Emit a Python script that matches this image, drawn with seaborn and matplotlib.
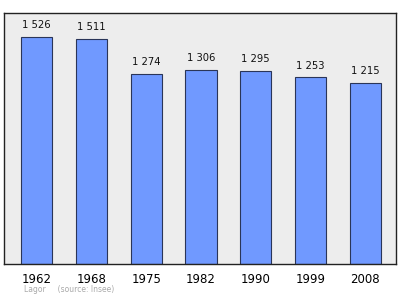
import matplotlib
matplotlib.use("Agg")
import matplotlib.pyplot as plt
import seaborn as sns
import pandas as pd

years = ["1962", "1968", "1975", "1982", "1990", "1999", "2008"]
population = [1526, 1511, 1274, 1306, 1295, 1253, 1215]
value_labels = ["1 526", "1 511", "1 274", "1 306", "1 295", "1 253", "1 215"]

df = pd.DataFrame({"year": years, "pop": population})

fig = plt.figure(figsize=(4.0, 2.99), dpi=100)
ax = fig.add_axes([0.011, 0.117, 0.979, 0.840])
sns.barplot(data=df, x="year", y="pop", color="#7099ff", width=0.57,
            edgecolor="#2a3558", linewidth=0.8, saturation=1, ax=ax)
ax.set_facecolor("#ededed")
ax.set_xlim(-0.59, 6.56)
ax.set_ylim(0, 1687)
ax.set_yticks([])
ax.set_xlabel("")
ax.set_ylabel("")
ax.tick_params(axis="x", length=0, labelsize=8.5, pad=6.5)
for s in ax.spines.values():
    s.set_color("#222222")
    s.set_linewidth(1.0)
for p, lab in zip(ax.patches, value_labels):
    ax.annotate(lab, (p.get_x() + p.get_width() / 2, p.get_height()),
                xytext=(0, 5), textcoords="offset points",
                ha="center", va="bottom", fontsize=7.2, color="#111111")
fig.text(0.06, 0.022, "Lagor     (source: Insee)", fontsize=5.5, color="#aaaaaa")
fig.savefig("out.png", dpi=100, facecolor="white")
